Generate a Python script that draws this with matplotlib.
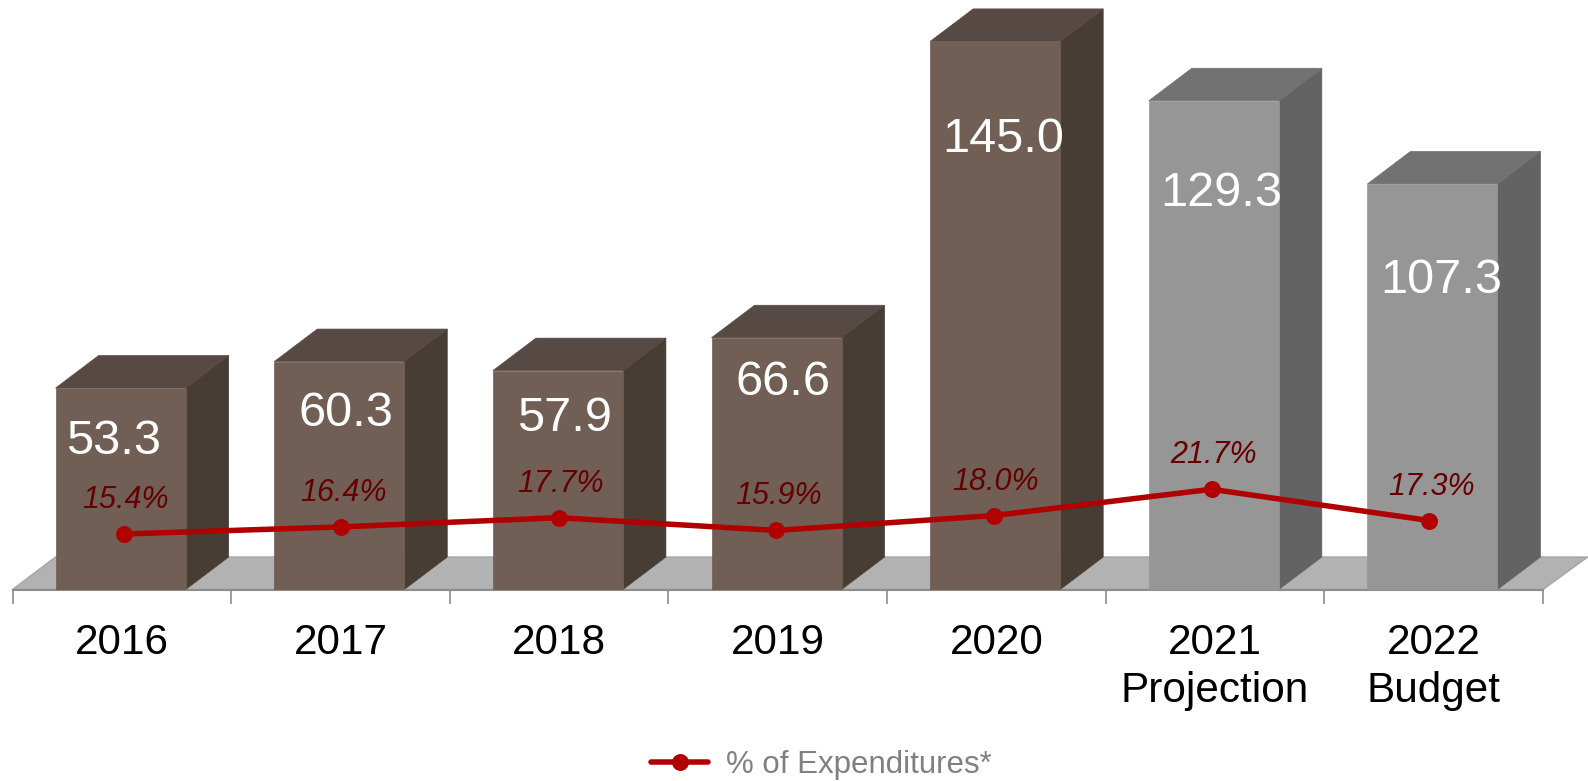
import matplotlib
matplotlib.use("Agg")
import matplotlib.pyplot as plt

plt.rcParams['font.family'] = ['Liberation Sans', 'DejaVu Sans']

# Data
categories = ['2016', '2017', '2018', '2019', '2020', '2021\nProjection', '2022\nBudget']
values = [53.3, 60.3, 57.9, 66.6, 145.0, 129.3, 107.3]
percents = [15.4, 16.4, 17.7, 15.9, 18.0, 21.7, 17.3]
percent_labels = ['15.4%', '16.4%', '17.7%', '15.9%', '18.0%', '21.7%', '17.3%']
value_labels = ['53.3', '60.3', '57.9', '66.6', '145.0', '129.3', '107.3']
projected = [False, False, False, False, False, True, True]

# Value labels sit by hand in the original, offsets are (x, y) in px from the bar top centre
value_label_offsets = [(-7, -53), (7, -52), (7, -48), (6, -45), (8, -98), (7, -93), (9, -97)]

W, H = 1588, 781
DPI = 100
BASE_Y = 589.5
PX_PER_VALUE = 3.78
AXIS_LEFT, AXIS_RIGHT = 12.5, 1543.0
STEP_PX = (AXIS_RIGHT - AXIS_LEFT) / 7

# bar box depth
DEPTH_X = 43 / STEP_PX
DEPTH_Y = 32.5 / PX_PER_VALUE
BAR_WIDTH = 130 / STEP_PX
BAR_SHIFT = -1.2 / STEP_PX

BROWN = {'front': '#715f55', 'top': '#574a45', 'side': '#483d34'}
GREY = {'front': '#969696', 'top': '#727272', 'side': '#636363'}
LINE_RED = '#b00000'
AXIS_GREY = '#8c8c8c'


def px(points):
    return points * 72 / DPI


fig = plt.figure(figsize=(W / DPI, H / DPI), dpi=DPI, facecolor='white')

# Axes whose bottom spine is the category axis of the chart
ax = fig.add_axes([AXIS_LEFT / W, (H - BASE_Y) / H, (AXIS_RIGHT - AXIS_LEFT) / W, BASE_Y / H])
ax.set_xlim(-0.5, 6.5)
ax.set_ylim(0, BASE_Y / PX_PER_VALUE)
ax.patch.set_visible(False)
for name in ['top', 'left', 'right']:
    ax.spines[name].set_visible(False)
ax.spines['bottom'].set_color(AXIS_GREY)
ax.spines['bottom'].set_linewidth(1.5)
ax.set_yticks([])

ax.set_xticks(range(len(categories)))
ax.set_xticklabels(categories, fontsize=30.4, color='black', linespacing=1.28)
ax.set_xticks([i - 0.5 for i in range(len(categories) + 1)], minor=True)
ax.tick_params(axis='x', which='major', length=0, pad=px(33))
ax.tick_params(axis='x', which='minor', length=px(14), width=1.2, color=AXIS_GREY)

# Floor
ax.fill([-0.5, -0.5 + DEPTH_X, 6.5 + DEPTH_X * 1.04, 6.5],
        [0, DEPTH_Y, DEPTH_Y, 0],
        facecolor='#b2b2b2', edgecolor='#a6a6a6', linewidth=1, clip_on=False, zorder=1)

for i, (value, is_proj) in enumerate(zip(values, projected)):
    colors = GREY if is_proj else BROWN
    left = i + BAR_SHIFT - BAR_WIDTH / 2
    right = i + BAR_SHIFT + BAR_WIDTH / 2

    ax.bar(i + BAR_SHIFT, value, width=BAR_WIDTH, color=colors['front'],
           edgecolor=colors['front'], linewidth=0.5, zorder=3)
    ax.fill([right, right + DEPTH_X, right + DEPTH_X, right],
            [0, DEPTH_Y, value + DEPTH_Y, value],
            color=colors['side'], linewidth=0.5, zorder=2)
    ax.fill([left, left + DEPTH_X, right + DEPTH_X, right],
            [value, value + DEPTH_Y, value + DEPTH_Y, value],
            color=colors['top'], linewidth=0.5, zorder=2)

    off_x, off_y = value_label_offsets[i]
    ax.annotate(value_labels[i], (i + BAR_SHIFT, value), xytext=(px(off_x), px(off_y)),
                textcoords='offset points', ha='center', va='center',
                fontsize=35, color='white', zorder=6)

# The line has a slightly tighter x scale than the bars, so it gets its own axes
line_ax = fig.add_axes([0, 0, 1, 1], facecolor='none')
line_ax.set_xlim(-123.5 / 217.6, (W - 123.5) / 217.6)
line_ax.set_ylim(15.4 - (H - 534) / 7.1, 15.4 + 534 / 7.1)
line_ax.axis('off')

line_handle, = line_ax.plot(range(len(percents)), percents, color=LINE_RED,
                            linewidth=px(5.5), marker='o', markersize=px(15.5),
                            markeredgecolor=LINE_RED, solid_capstyle='round',
                            label='% of Expenditures*', zorder=5)

for i, (pct, text) in enumerate(zip(percents, percent_labels)):
    line_ax.annotate(text, (i, pct), xytext=(px(2), px(34)), textcoords='offset points',
                     ha='center', va='center', fontsize=22, style='italic',
                     color='#650000', zorder=6)

fig.legend(handles=[line_handle], loc='center', bbox_to_anchor=(821 / W, (H - 765) / H),
           frameon=False, fontsize=22.5, labelcolor='#808080', handlelength=1.85,
           handletextpad=0.55, borderpad=0)

fig.savefig('out.png', dpi=DPI, facecolor='white')
